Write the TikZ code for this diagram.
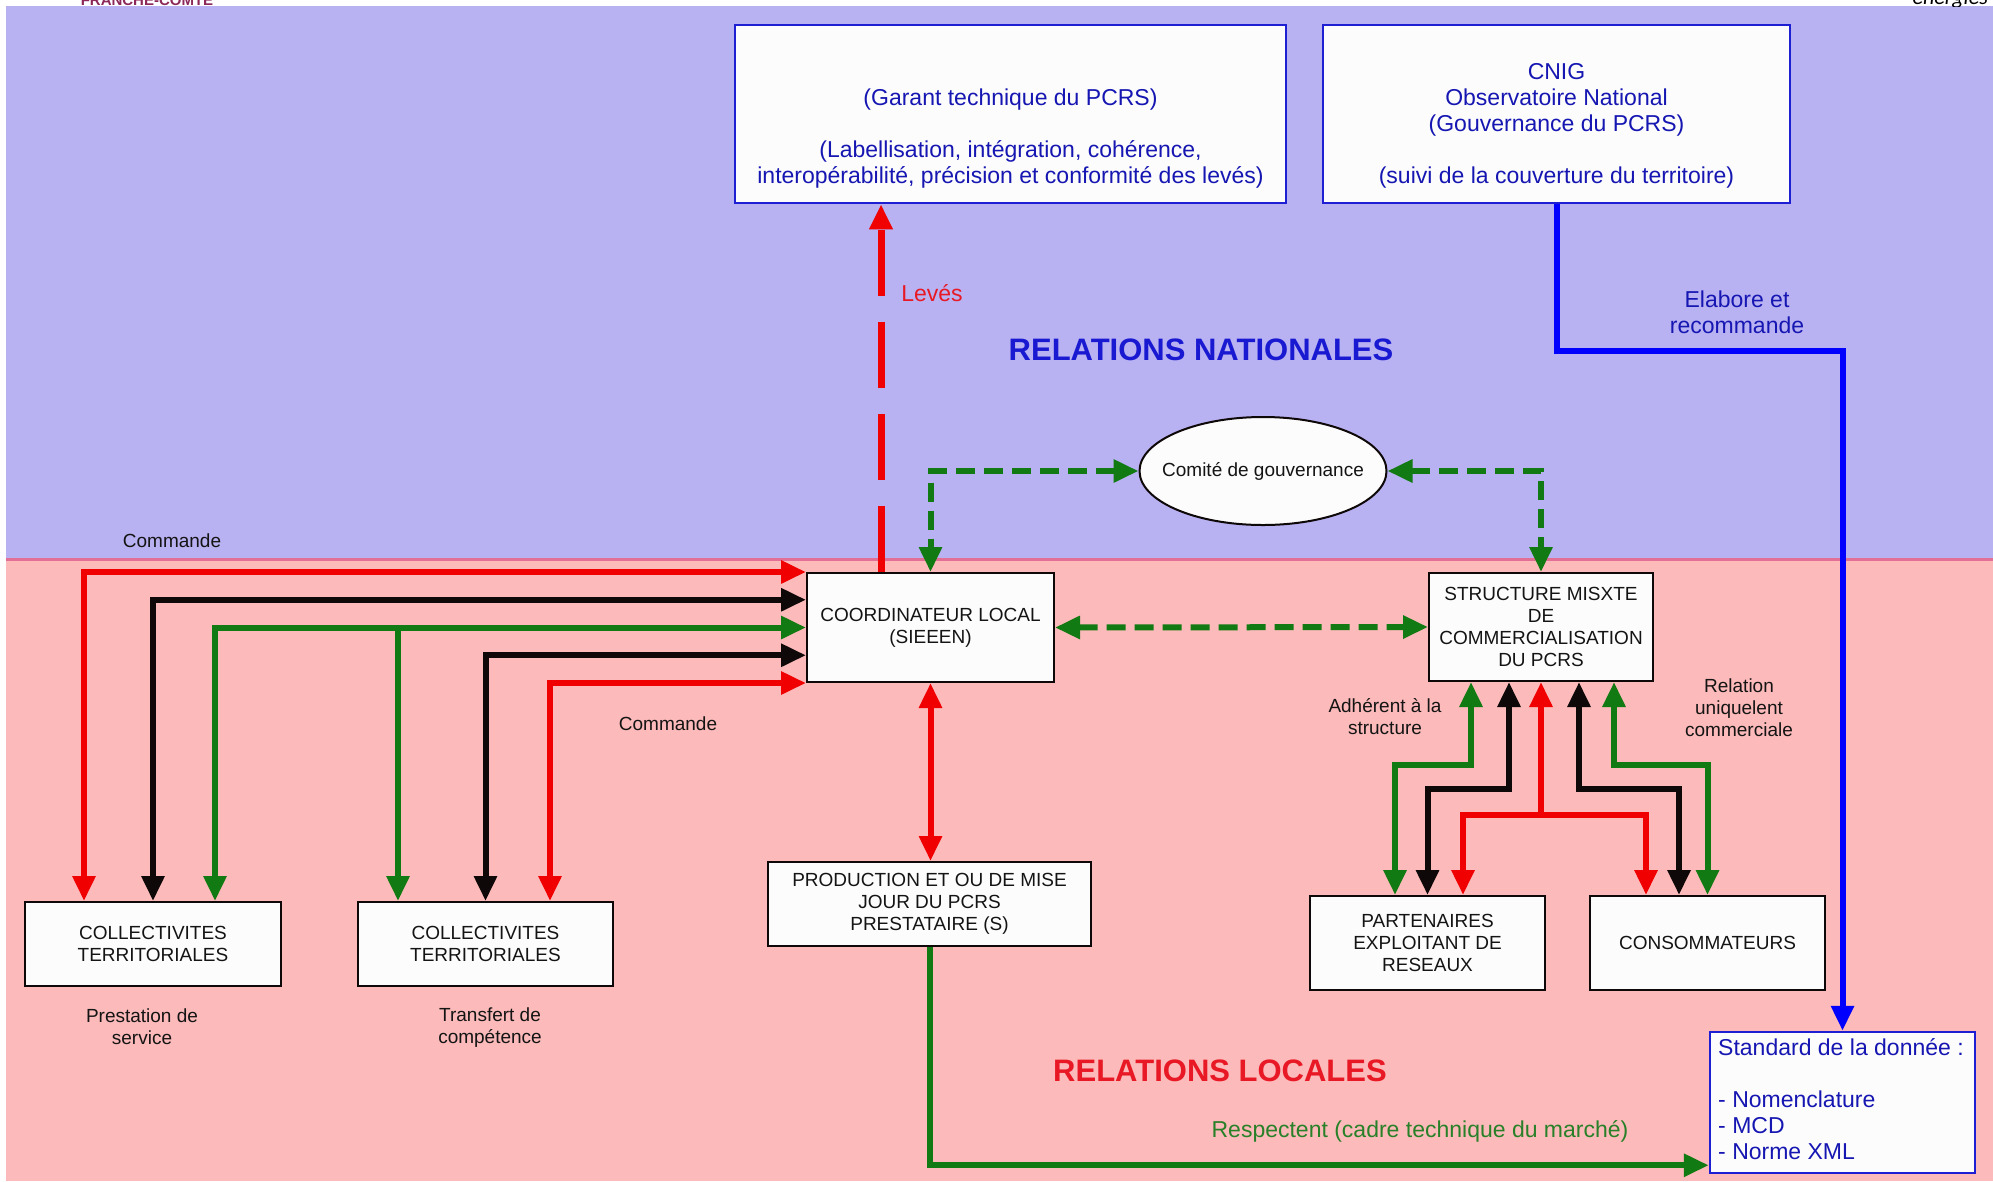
\documentclass[tikz,border=0pt]{standalone}
\usepackage{fontspec}
\setmainfont{Liberation Sans}
\newfontfamily\carlito{Carlito}
\usetikzlibrary{arrows.meta,shapes.geometric,calc}

\definecolor{bgpurple}{RGB}{184,177,242}
\definecolor{bgpink}{RGB}{252,186,186}
\definecolor{bline}{RGB}{226,112,150}
\definecolor{cred}{RGB}{240,0,0}
\definecolor{cblack}{RGB}{15,8,8}
\definecolor{cgreen}{RGB}{18,122,18}
\definecolor{cblue}{RGB}{0,0,255}
\definecolor{btext}{RGB}{22,22,178}
\definecolor{bhead}{RGB}{25,25,210}
\definecolor{bborder}{RGB}{30,30,210}
\definecolor{boxw}{RGB}{252,252,252}
\definecolor{ttext}{RGB}{20,20,20}
\definecolor{hred}{RGB}{232,24,36}
\definecolor{gtext}{RGB}{40,128,40}
\definecolor{logo}{RGB}{140,40,90}

\newcommand{\fsz}[2]{\fontsize{#1}{#2}\selectfont}

\begin{document}
\begin{tikzpicture}[x=1pt,y=-1pt,
  >={Triangle[length=25pt,width=22pt]},
  box/.style={draw=cblack, line width=2pt, fill=boxw, align=center, text=ttext, font=\fsz{19}{22}, inner sep=0pt},
  bbox/.style={draw=bborder, line width=2.5pt, fill=boxw, inner sep=0pt},
  lbl/.style={align=center, text=ttext, font=\fsz{19}{22}, inner sep=0pt},
  blbl/.style={align=center, text=btext, font=\fsz{23}{26}, inner sep=0pt},
  sred/.style={line width=6pt, draw=cred},
  sblack/.style={line width=6pt, draw=cblack},
  sgreen/.style={line width=6pt, draw=cgreen},
  sblue/.style={line width=6pt, draw=cblue},
  gdash/.style={line width=6pt, draw=cgreen, dash pattern=on 19pt off 9pt},
  rdash/.style={line width=7pt, draw=cred, dash pattern=on 66pt off 26pt}
]
\useasboundingbox (0,0) rectangle (1993,1181);
% background
\fill[white] (0,0) rectangle (1993,1181);
\fill[bgpurple] (6,6) rectangle (1993,559);
\fill[bgpink] (6,559) rectangle (1993,1181);
\draw[bline, line width=3pt] (6,559.5) -- (1993,559.5);

% cropped logo texts at the top edge
\begin{scope}
\clip (0,0) rectangle (1993,6);
\node[anchor=base, text=logo, font=\bfseries\fsz{15}{15}, inner sep=0pt] (logo1) at (147,5) {FRANCHE-COMTE};
\node[anchor=base east, font=\carlito\itshape\fsz{22}{22}, inner sep=0pt] (logo2) at (1988,4) {énergies};
\end{scope}

% top boxes
\node[bbox, minimum width=551pt, minimum height=178pt] (garant) at (1010.5,114) {};
\node[blbl] (garanttxt) at (1010.5,138.5) {(Garant technique du PCRS)\\[26pt](Labellisation, intégration, cohérence,\\interopérabilité, précision et conformité des levés)};
\node[bbox, minimum width=467pt, minimum height=178pt] (cnig) at (1556.5,114) {};
\node[blbl] (cnigtxt) at (1556.5,126) {CNIG\\Observatoire National\\(Gouvernance du PCRS)\\[26pt](suivi de la couverture du territoire)};

% ellipse
\node[ellipse, draw=cblack, line width=2pt, fill=boxw, minimum width=247pt, minimum height=108pt, inner sep=0pt,
      label={[lbl]center:Comité de gouvernance}] (comite) at (1263,471) {};

% main boxes
\node[box, minimum width=247pt, minimum height=109pt] (coord) at (930.5,627.5) {COORDINATEUR LOCAL\\(SIEEEN)};
\node[box, minimum width=224pt, minimum height=108pt] (struct) at (1541,627) {STRUCTURE MISXTE\\DE\\COMMERCIALISATION\\DU PCRS};
\node[box, minimum width=323pt, minimum height=84pt] (prod) at (929.5,904) {PRODUCTION ET OU DE MISE\\JOUR DU PCRS\\PRESTATAIRE (S)};
\node[box, minimum width=256pt, minimum height=84pt] (coll1) at (153,944) {COLLECTIVITES\\TERRITORIALES};
\node[box, minimum width=255pt, minimum height=84pt] (coll2) at (485.5,944) {COLLECTIVITES\\TERRITORIALES};
\node[box, minimum width=235pt, minimum height=94pt] (part) at (1427.5,943) {PARTENAIRES\\EXPLOITANT DE\\RESEAUX};
\node[box, minimum width=235pt, minimum height=94pt] (cons) at (1707.5,943) {CONSOMMATEURS};
\node[bbox, minimum width=265pt, minimum height=141pt] (std) at (1842.5,1102.5) {};
\node[blbl, align=left, anchor=west] (stdtxt) at (1718,1099) {Standard de la donnée :\\[26pt]- Nomenclature\\- MCD\\- Norme XML};

% helper attachment points
\coordinate (c1r) at ($(coll1.north west)+(60,0)$);
\coordinate (c1g) at ($(coll1.north east)+(-67,0)$);
\coordinate (c2g) at ($(coll2.north west)+(41,0)$);
\coordinate (c2r) at ($(coll2.north east)+(-64,0)$);
\coordinate (k2) at ($(coord.north west)!0.25!(coord.south west)$);
\coordinate (k4) at ($(coord.north west)!0.75!(coord.south west)$);
\coordinate (lv) at ($(coord.north west)+(75,0)$);
\coordinate (s1) at ($(struct.south)+(-70,0)$);
\coordinate (s2) at ($(struct.south)+(-32,0)$);
\coordinate (s4) at ($(struct.south)+(38,0)$);
\coordinate (s5) at ($(struct.south)+(73,0)$);
\coordinate (p1) at ($(part.north)+(-32.5,0)$);
\coordinate (p3) at ($(part.north)+(35.5,0)$);
\coordinate (q1) at ($(cons.north)+(-61.5,0)$);
\coordinate (q2) at ($(cons.north)+(-28.5,0)$);
\coordinate (redsplit) at ($(struct.south)+(0,133)$);
\coordinate (gend) at ($(std.south west)+(0,-9)$);

% Levés
\draw[rdash,->] (lv) -- (lv |- garant.south);
% green dashed
\draw[gdash,<->] (comite.west) -| (coord.north);
\draw[gdash,<->] (comite.east) -| (struct.north);
\draw[gdash,<->] (coord.east) -- (struct.west);
% coordinator <-> production
\draw[sred,<->] (coord.south) -- (coord.south |- prod.north);
% left arrows
\draw[sred,<->] (coord.north west) -| (c1r);
\draw[sblack,<->] (k2) -| (coll1.north);
\draw[sgreen,<->] (coord.west) -| (c1g);
\draw[sgreen,->] (c2g |- coord.west) -- (c2g);
\draw[sblack,<->] (k4) -| (coll2.north);
\draw[sred,<->] (coord.south west) -| (c2r);
% structure arrows
\draw[sgreen,<->] (s1) -- ($(s1)+(0,83)$) -| (p1);
\draw[sblack,<->] (s2) -- ($(s2)+(0,107)$) -| (part.north);
\draw[sred,<->] (struct.south) -- (redsplit) -| (p3);
\draw[sred,->] (redsplit) -| (q1);
\draw[sblack,<->] (s4) -- ($(s4)+(0,107)$) -| (q2);
\draw[sgreen,<->] (s5) -- ($(s5)+(0,83)$) -| (cons.north);
% blue
\draw[sblue,->] (cnig.south) -- ++(0,147) -| (std.north);
% green to standard
\draw[sgreen,->] (prod.south) |- (gend);

% labels
\node[lbl] (cmd1) at (172,541) {Commande};
\node[lbl] (cmd2) at (668,724) {Commande};
\node[lbl] (prest) at (142,1027) {Prestation de\\service};
\node[lbl] (transf) at (490,1028) {Transfert de\\compétence};
\node[lbl] (adh) at (1385,717) {Adhérent à la\\structure};
\node[lbl] (relc) at (1739,708) {Relation\\uniquelent\\commerciale};
\node[blbl] (elab) at (1737,312) {Elabore et\\recommande};
\node[text=hred, font=\fsz{23}{26}, inner sep=0pt] (leves) at (932,293) {Levés};
\node[text=bhead, font=\bfseries\fsz{31}{36}, inner sep=0pt] (natl) at (1201,350) {RELATIONS NATIONALES};
\node[text=hred, font=\bfseries\fsz{31}{36}, inner sep=0pt] (locl) at (1220,1071) {RELATIONS LOCALES};
\node[text=gtext, font=\fsz{23}{26}, inner sep=0pt] (resp) at (1420,1131) {Respectent (cadre technique du marché)};
\end{tikzpicture}
\end{document}
